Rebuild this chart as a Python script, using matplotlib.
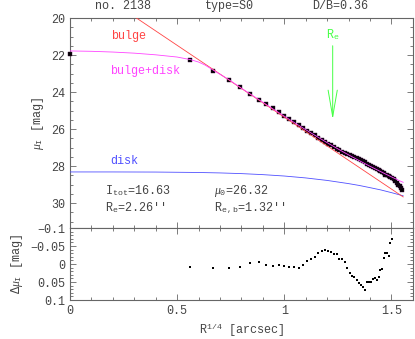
import matplotlib
matplotlib.use("Agg")
import matplotlib.pyplot as plt
from matplotlib.ticker import MultipleLocator, FixedLocator, FixedFormatter

plt.rcParams['font.family'] = ['Liberation Mono', 'DejaVu Serif']
plt.rcParams['mathtext.fontset'] = 'custom'
plt.rcParams['mathtext.rm'] = 'Liberation Mono'
plt.rcParams['mathtext.it'] = 'Liberation Serif:italic'
plt.rcParams['mathtext.bf'] = 'Liberation Mono:bold'

# ---- data (R^{1/4} in arcsec^{1/4}, surface brightness in mag) ----
r14 = [0.0, 0.5623, 0.6687, 0.7401, 0.7953, 0.8409, 0.8801, 0.9147, 0.9457, 0.9740,
       1.0000, 1.0241, 1.0466, 1.0678, 1.0878, 1.1067, 1.1247, 1.1419, 1.1583, 1.1741,
       1.1892, 1.2038, 1.2179, 1.2315, 1.2447, 1.2574, 1.2698, 1.2819, 1.2936, 1.3050,
       1.3161, 1.3269, 1.3375, 1.3478, 1.3579, 1.3678, 1.3774, 1.3869, 1.3962, 1.4053,
       1.4142, 1.4230, 1.4316, 1.4400, 1.4483, 1.4565, 1.4645, 1.4724, 1.4802, 1.4878,
       1.4953, 1.5028, 1.5101, 1.5173, 1.5244, 1.5314, 1.5383, 1.5451, 1.5519]
mu = [21.97, 22.27, 22.85, 23.33, 23.75, 24.12, 24.42, 24.66, 24.88, 25.09,
      25.30, 25.47, 25.64, 25.79, 25.95, 26.09, 26.23, 26.35, 26.48, 26.59,
      26.70, 26.80, 26.89, 26.98, 27.06, 27.14, 27.22, 27.28, 27.34, 27.40,
      27.47, 27.53, 27.59, 27.64, 27.70, 27.75, 27.80, 27.88, 27.94, 27.99,
      28.05, 28.11, 28.15, 28.21, 28.28, 28.33, 28.40, 28.46, 28.50, 28.54,
      28.62, 28.67, 28.72, 28.80, 28.90, 29.00, 29.10, 29.20, 29.30]

# residuals (points 1..51)
dmu = [0.0075, 0.0123, 0.0103, 0.0086, -0.0018, -0.0047, 0.0018, 0.0066, 0.0030, 0.0047,
       0.0090, 0.0095, 0.0123, 0.0018, -0.0095, -0.0140, -0.0208, -0.0300, -0.0350, -0.0378,
       -0.0350, -0.0338, -0.0273, -0.0273, -0.0151, -0.0151, -0.0055, 0.0115, 0.0236, 0.0330,
       0.0369, 0.0434, 0.0519, 0.0584, 0.0641, 0.0717, 0.0499, 0.0499, 0.0491, 0.0426,
       0.0397, 0.0434, 0.0358, 0.0171, 0.0132, -0.0180, -0.0293, -0.0310, -0.0236, -0.0584,
       -0.0689]

# model curves
bulge_x = [0.31, 1.555]
bulge_y = [20.0, 29.67]

sum_x = [0.0, 0.1, 0.2, 0.3, 0.4, 0.5, 0.5623, 0.6, 0.63, 0.6687, 0.70, 0.7401,
         0.7953, 0.8409, 0.8801, 0.9147, 0.9457, 0.9740, 1.0, 1.0466, 1.0878, 1.1247,
         1.1583, 1.1892, 1.2179, 1.2447, 1.2698, 1.2936, 1.3161, 1.3375, 1.3579, 1.3774,
         1.3962, 1.4142, 1.4316, 1.4483, 1.4645, 1.4802, 1.4953, 1.5101, 1.5244, 1.5383,
         1.555]
sum_y = [21.78, 21.80, 21.84, 21.90, 21.99, 22.11, 22.25, 22.38, 22.54, 22.82, 23.04, 23.32,
         23.757, 24.105, 24.40, 24.666, 24.90, 25.11, 25.305, 25.648, 25.947, 26.211,
         26.447, 26.661, 26.857, 27.036, 27.201, 27.355, 27.498, 27.631, 27.757, 27.875,
         27.988, 28.094, 28.195, 28.292, 28.385, 28.473, 28.559, 28.641, 28.720, 28.797,
         28.88]

disk_x = [0.0, 0.2, 0.4, 0.6, 0.7, 0.8, 0.9, 1.0, 1.1, 1.2, 1.3, 1.35, 1.4, 1.45, 1.5, 1.555]
disk_y = [28.32, 28.32, 28.326, 28.349, 28.373, 28.41, 28.465, 28.54, 28.643, 28.778,
          28.95, 29.05, 29.168, 29.29, 29.437, 29.61]

re_x = 1.2261
header = ["no. 2138", "type=S0", "D/B=0.36"]

TXT = '#444444'
SP = '#666666'
RED = '#ff4444'
MAG = '#ff44ff'
BLUE = '#5050ff'
GREEN = '#44ff44'
FS = 8.5

fig = plt.figure(figsize=(4.15, 3.39), dpi=100)
ax = fig.add_axes([0.1687, 0.3274, 0.826, 0.6195])
ax2 = fig.add_axes([0.1687, 0.1150, 0.826, 0.2124])

for a in (ax, ax2):
    a.set_xlim(0, 1.6)
    for s in a.spines.values():
        s.set_color(SP)
        s.set_linewidth(0.8)
    a.tick_params(which='both', direction='in', top=True, right=True,
                  colors=SP, labelcolor=TXT, labelsize=FS, width=0.6)
    a.tick_params(which='major', length=4.5)
    a.tick_params(which='minor', length=2.2)
    a.xaxis.set_major_locator(MultipleLocator(0.5))
    a.xaxis.set_minor_locator(MultipleLocator(0.1))

# top panel
ax.set_ylim(31.35, 20)
ax.yaxis.set_major_locator(MultipleLocator(2))
ax.yaxis.set_minor_locator(MultipleLocator(0.5))
ax.tick_params(labelbottom=False)

ax.plot(r14, mu, 's', color='black', ms=2.6, mec='#3a0a3a', mew=0.3, zorder=3, clip_on=False)
ax.plot(disk_x, disk_y, '-', color=BLUE, lw=0.6, zorder=4)
ax.plot(bulge_x, bulge_y, '-', color=RED, lw=0.6, zorder=4)
ax.plot(sum_x, sum_y, '-', color=MAG, lw=0.6, zorder=4)

ax.annotate('', xy=(re_x, 25.48), xytext=(re_x, 21.5),
            arrowprops=dict(arrowstyle='->,head_length=1.9,head_width=0.33',
                            color=GREEN, lw=0.7, shrinkA=0, shrinkB=0))
ax.text(re_x, 20.9, r'R$_{\rm e}$', color=GREEN, fontsize=FS, ha='center', va='center')

ax.text(0.19, 20.97, 'bulge', color=RED, fontsize=FS, ha='left', va='center')
ax.text(0.186, 22.86, 'bulge+disk', color=MAG, fontsize=FS, ha='left', va='center')
ax.text(0.186, 27.73, 'disk', color=BLUE, fontsize=FS, ha='left', va='center')

ax.text(0.163, 29.34, r'I$_{\rm tot}$=16.63', color=TXT, fontsize=FS, ha='left', va='center')
ax.text(0.163, 30.27, "R$_{\\rm e}$=2.26''", color=TXT, fontsize=FS, ha='left', va='center')
ax.text(0.67, 29.34, r'$\mu_0$=26.32', color=TXT, fontsize=FS, ha='left', va='center')
ax.text(0.67, 30.27, "R$_{\\rm e,b}$=1.32''", color=TXT, fontsize=FS, ha='left', va='center')

for xf, t in zip([123 / 415, 229 / 415, 340 / 415], header):
    fig.text(xf, 1 - 6 / 339, t, color=TXT, fontsize=FS, ha='center', va='center')

ax.set_ylabel(r'$\mu_{\rm I}$ [mag]', color=TXT, fontsize=FS, labelpad=4)

# bottom panel
ax2.set_ylim(0.1, -0.1)
ax2.yaxis.set_major_locator(FixedLocator([-0.1, -0.05, 0, 0.05, 0.1]))
ax2.yaxis.set_major_formatter(FixedFormatter(['\u22120.1', '\u22120.05', '0', '0.05', '0.1']))
ax2.yaxis.set_minor_locator(MultipleLocator(0.01))
ax2.xaxis.set_major_locator(FixedLocator([0, 0.5, 1, 1.5]))
ax2.xaxis.set_major_formatter(FixedFormatter(['0', '0.5', '1', '1.5']))
ax2.plot(r14[1:1 + len(dmu)], dmu, 's', color='black', ms=1.5, mew=0, zorder=3)
ax2.set_ylabel(r'$\Delta\mu_{\rm I}$ [mag]', color=TXT, fontsize=FS, labelpad=4)
ax2.set_xlabel(r'R$^{1/4}$ [arcsec]', color=TXT, fontsize=FS, labelpad=3)

fig.savefig('out.png', dpi=100)
